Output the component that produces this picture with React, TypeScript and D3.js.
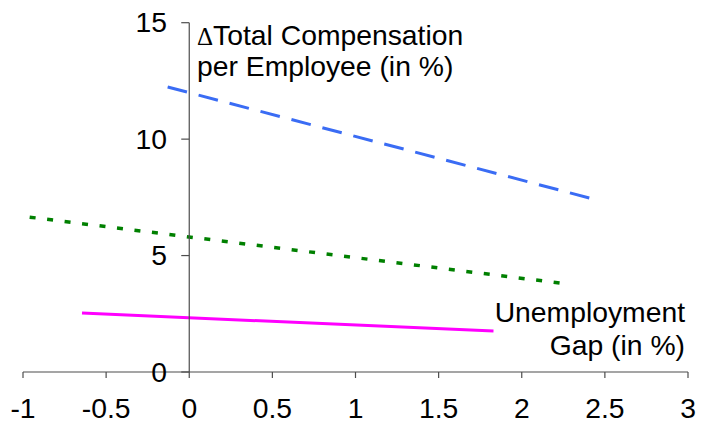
import React from "react";
import * as d3 from "d3";

const xTicks = [-1, -0.5, 0, 0.5, 1, 1.5, 2, 2.5, 3];
const yTicks = [0, 5, 10, 15];

const compX = [-0.13, 2.43];
const compY = [12.24, 7.43];

const greenX = [-0.96, 2.23];
const greenY = [6.65, 3.82];

const gapX = [-0.645, 1.83];
const gapY = [2.53, 1.76];

const W = 702;
const H = 424;

export default function App() {
  const x = d3.scaleLinear().domain([-1, 3]).range([23, 688]);
  const y = d3.scaleLinear().domain([0, 15]).range([372, 22.7]);
  const line = d3
    .line<[number, number]>()
    .x((d) => x(d[0]))
    .y((d) => y(d[1]));
  const pts = (xs: number[], ys: number[]) => xs.map((v, i) => [v, ys[i]] as [number, number]);
  const axisColor = "#4d4d4d";
  const font = "Liberation Sans, Arial, sans-serif";
  const x0 = x(0);
  const y0 = y(0);
  const fs = 28.3;
  return (
    <svg width={W} height={H} style={{ position: "absolute", left: 0, top: 0, background: "#fff" }} fontFamily={font}>
      {/* lines */}
      <path d={line(pts(compX, compY)) || ""} fill="none" stroke="#3a6cf4" strokeWidth={3} strokeDasharray="20 12" />
      <path d={line(pts(greenX, greenY)) || ""} fill="none" stroke="#008000" strokeWidth={3.5} strokeDasharray="6 11.6" />
      <path d={line(pts(gapX, gapY)) || ""} fill="none" stroke="#ff00ff" strokeWidth={3} />
      {/* x axis */}
      <line x1={x(-1)} x2={x(3)} y1={y0} y2={y0} stroke={axisColor} strokeWidth={1.2} />
      {xTicks.map((t) => (
        <g key={"xt" + t}>
          <line x1={x(t)} x2={x(t)} y1={y0} y2={y0 + 6} stroke={axisColor} strokeWidth={1.2} />
          <text x={x(t)} y={417.5} textAnchor="middle" fontSize={fs} fill="#000">
            {String(t)}
          </text>
        </g>
      ))}
      {/* y axis */}
      <line x1={x0} x2={x0} y1={y(15)} y2={y0} stroke={axisColor} strokeWidth={1.2} />
      {yTicks.map((t) => (
        <g key={"yt" + t}>
          <line x1={x0 - 8} x2={x0} y1={y(t)} y2={y(t)} stroke={axisColor} strokeWidth={1.2} />
          <text x={167} y={y(t) + 9.5} textAnchor="end" fontSize={fs} fill="#000">
            {String(t)}
          </text>
        </g>
      ))}
      {/* labels */}
      <text x={197} y={45} fontSize={fs} fill="#000">
        <tspan fontSize={25} fontFamily="Liberation Serif, Times New Roman, serif">Δ</tspan>
        <tspan>Total Compensation</tspan>
      </text>
      <text x={197} y={76} fontSize={fs} fill="#000">
        per Employee (in %)
      </text>
      <text x={685} y={321.5} fontSize={fs} fill="#000" textAnchor="end">
        Unemployment
      </text>
      <text x={685} y={355} fontSize={fs} fill="#000" textAnchor="end">
        Gap (in %)
      </text>
    </svg>
  );
}
